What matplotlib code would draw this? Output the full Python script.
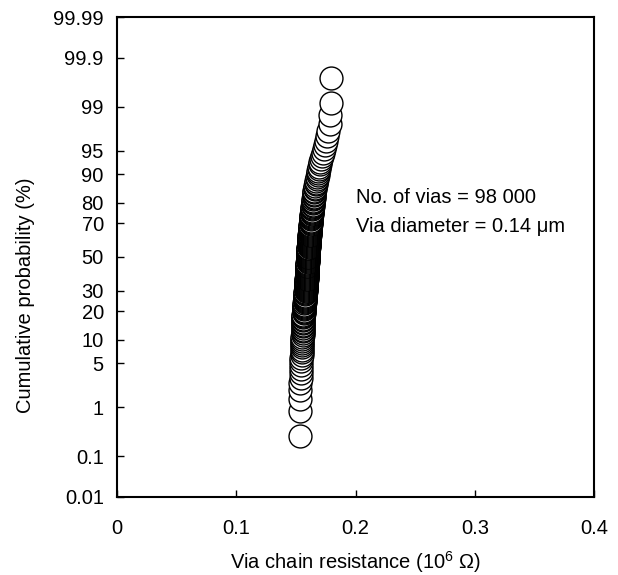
from statistics import NormalDist
import numpy as np
import matplotlib
matplotlib.use("Agg")
import matplotlib.pyplot as plt

plt.rcParams['font.family'] = ['Liberation Sans', 'DejaVu Sans']
plt.rcParams['mathtext.fontset'] = 'custom'
plt.rcParams['mathtext.rm'] = 'Liberation Sans'

# via chain resistance (10^6 ohm), sorted
resistance = [
    0.1538, 0.1538, 0.1538, 0.1538, 0.1538,
    0.1540, 0.1540, 0.1543, 0.1544, 0.1545, 0.1547, 0.1548, 0.1549, 0.1550, 0.1551,
    0.1552, 0.1553, 0.1553, 0.1554, 0.1555,
    0.1556, 0.1556, 0.1557, 0.1557, 0.1558, 0.1558, 0.1559, 0.1560, 0.1560, 0.1561,
    0.1561, 0.1562, 0.1562, 0.1563, 0.1565,
    0.1565, 0.1566, 0.1567, 0.1568, 0.1569, 0.1570, 0.1571, 0.1572, 0.1573, 0.1574,
    0.1575, 0.1576, 0.1577, 0.1577, 0.1578, 0.1579, 0.1580, 0.1580, 0.1581, 0.1582,
    0.1583, 0.1583, 0.1584, 0.1585, 0.1585, 0.1586, 0.1587, 0.1587, 0.1588, 0.1589,
    0.1589, 0.1590, 0.1590, 0.1591, 0.1591, 0.1592, 0.1592, 0.1592, 0.1593, 0.1593,
    0.1594, 0.1594, 0.1595, 0.1595, 0.1596, 0.1596, 0.1597, 0.1597, 0.1597, 0.1598,
    0.1598, 0.1599, 0.1599, 0.1600, 0.1600,
    0.1600, 0.1601, 0.1601, 0.1602, 0.1602, 0.1603, 0.1603, 0.1604, 0.1604, 0.1605,
    0.1605,
    0.1606, 0.1607, 0.1607, 0.1608, 0.1608, 0.1609, 0.1610, 0.1610, 0.1611, 0.1612,
    0.1612, 0.1613, 0.1614, 0.1615, 0.1615, 0.1616, 0.1617, 0.1617, 0.1618, 0.1619,
    0.1620, 0.1620, 0.1621, 0.1622,
    0.1623, 0.1624, 0.1625, 0.1626, 0.1627, 0.1628, 0.1629, 0.1630, 0.1631, 0.1632,
    0.1633, 0.1634, 0.1635, 0.1636, 0.1638, 0.1639, 0.1640, 0.1641, 0.1642, 0.1644,
    0.1645, 0.1646, 0.1648, 0.1649, 0.1650, 0.1652, 0.1653, 0.1655,
    0.1657, 0.1660, 0.1663, 0.1666, 0.1669, 0.1672, 0.1675, 0.1678, 0.1682, 0.1685,
    0.1689, 0.1693, 0.1697, 0.1702, 0.1706, 0.1711,
    0.1716, 0.1725, 0.1735, 0.1745, 0.1756, 0.1765, 0.1773, 0.1782, 0.1782, 0.1798,
    0.1798,
]

prob_ticks = [0.01, 0.1, 1, 5, 10, 20, 30, 50, 70, 80, 90, 95, 99, 99.9, 99.99]
prob_labels = ["0.01", "0.1", "1", "5", "10", "20", "30", "50", "70", "80",
               "90", "95", "99", "99.9", "99.99"]
x_ticks = [0, 0.1, 0.2, 0.3, 0.4]
x_labels = ["0", "0.1", "0.2", "0.3", "0.4"]

nd = NormalDist()


def probit(pct):
    return nd.inv_cdf(pct / 100.0)


# empirical cumulative probability (plotting position of each rank)
n = len(resistance)
cum_prob = [(i - 0.5) / n * 100 for i in range(1, n + 1)]
z = [probit(p) for p in cum_prob]

fs = 14.5
fig = plt.figure(figsize=(6.18, 5.75), dpi=100)
ax = fig.add_axes([0.1893, 0.1357, 0.7719, 0.8347])

ax.plot(resistance, z, linestyle='none', marker='o', markersize=16.5,
        markerfacecolor='white', markeredgecolor='black', markeredgewidth=1.0)

ax.set_xlim(0, 0.4)
ax.set_ylim(probit(0.01), probit(99.99))
ax.set_xticks(x_ticks)
ax.set_xticklabels(x_labels)
ax.set_yticks([probit(p) for p in prob_ticks])
ax.set_yticklabels(prob_labels)

for s in ax.spines.values():
    s.set_linewidth(1.5)
ax.tick_params(axis='x', direction='in', length=5, width=1, pad=16, labelsize=fs)
ax.tick_params(axis='y', direction='in', length=5, width=1, pad=9.5, labelsize=fs)

ax.set_xlabel(r"Via chain resistance (10$^6$ Ω)", fontsize=fs, labelpad=8)
ax.set_ylabel("Cumulative probability (%)", fontsize=fs)
ax.yaxis.set_label_coords(-0.172, 0.421)

ax.text(0.2, 0.92, "No. of vias = 98 000", fontsize=fs, va='center')
ax.text(0.2, 0.48, "Via diameter = 0.14 μm", fontsize=fs, va='center')

fig.savefig("out.png", dpi=100)
